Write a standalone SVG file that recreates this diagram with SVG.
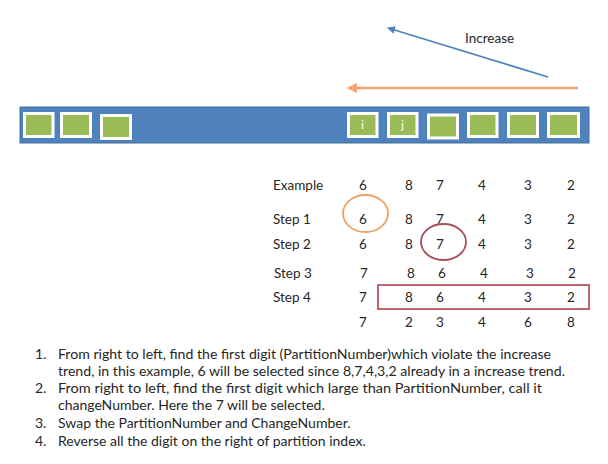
<svg xmlns="http://www.w3.org/2000/svg" width="608" height="464" viewBox="0 0 608 464">
<style>
text{font-family:Lato,"Liberation Sans",sans-serif;fill:#262626}
.t{font-size:13.5px}
.n{font-size:13.5px;text-anchor:middle}
.l{font-size:14px}
.sq{fill:#9BBB59;stroke:#FFFFFF;stroke-width:3}
.lab{fill:#FFFFFF;font-size:12px;text-anchor:middle}
</style>
<defs>
<marker id="ab" markerWidth="8" markerHeight="8" refX="7" refY="4" orient="auto" markerUnits="userSpaceOnUse"><path d="M0,0 L8,4 L0,8 z" fill="#4F81BD"/></marker>
<marker id="ao" markerWidth="10" markerHeight="10" refX="9" refY="5" orient="auto" markerUnits="userSpaceOnUse"><path d="M0,0 L10,5 L0,10 z" fill="#F2A46E"/></marker>
</defs>
<g id="connectors">
<line x1="548" y1="77" x2="388" y2="28" stroke="#4F81BD" stroke-width="1.8" marker-end="url(#ab)"/>
<line x1="578" y1="88" x2="348" y2="88" stroke="#F2A46E" stroke-width="2.5" marker-end="url(#ao)"/>
</g>
<text class="t" x="465" y="43">Increase</text>
<g id="bar">
<rect x="20" y="107" width="569" height="36" fill="#4F81BD" stroke="#41719C" stroke-width="1"/>
<rect class="sq" x="24.5" y="113.5" width="28.5" height="23"/>
<rect class="sq" x="61.5" y="113.5" width="29" height="23"/>
<rect class="sq" x="101.5" y="115.5" width="29" height="23"/>
<g id="node-i"><rect class="sq" x="348.5" y="113.5" width="28.5" height="23"/><text class="lab" x="362.5" y="129">i</text></g>
<g id="node-j"><rect class="sq" x="388.5" y="113.5" width="28.5" height="23"/><text class="lab" x="402.5" y="129">j</text></g>
<rect class="sq" x="428.5" y="115" width="29" height="23"/>
<rect class="sq" x="468.5" y="113.5" width="28.5" height="23"/>
<rect class="sq" x="508.5" y="113.5" width="29" height="23"/>
<rect class="sq" x="548.5" y="113.5" width="30" height="23"/>
</g>
<g id="table">
<text class="t" x="273" y="190">Example</text>
<text class="n" x="363" y="190">6</text><text class="n" x="409" y="190">8</text><text class="n" x="440" y="190">7</text><text class="n" x="482" y="190">4</text><text class="n" x="528" y="190">3</text><text class="n" x="571" y="190">2</text>
<text class="t" x="273" y="224">Step 1</text>
<text class="n" x="363" y="224">6</text><text class="n" x="409" y="224">8</text><text class="n" x="440" y="224">7</text><text class="n" x="482" y="224">4</text><text class="n" x="528" y="224">3</text><text class="n" x="571" y="224">2</text>
<text class="t" x="273" y="249">Step 2</text>
<text class="n" x="363" y="249">6</text><text class="n" x="409" y="249">8</text><text class="n" x="440" y="249">7</text><text class="n" x="482" y="249">4</text><text class="n" x="528" y="249">3</text><text class="n" x="571" y="249">2</text>
<text class="t" x="274" y="278">Step 3</text>
<text class="n" x="364" y="278">7</text><text class="n" x="411" y="278">8</text><text class="n" x="442" y="278">6</text><text class="n" x="484" y="278">4</text><text class="n" x="530" y="278">3</text><text class="n" x="572" y="278">2</text>
<text class="t" x="273" y="302">Step 4</text>
<text class="n" x="363" y="302">7</text><text class="n" x="409" y="302">8</text><text class="n" x="440" y="302">6</text><text class="n" x="482" y="302">4</text><text class="n" x="528" y="302">3</text><text class="n" x="571" y="302">2</text>
<text class="n" x="363" y="327">7</text><text class="n" x="409" y="327">2</text><text class="n" x="440" y="327">3</text><text class="n" x="482" y="327">4</text><text class="n" x="528" y="327">6</text><text class="n" x="571" y="327">8</text>
<ellipse cx="365.5" cy="213.5" rx="22.5" ry="18.5" fill="none" stroke="#F0A060" stroke-width="1.8"/>
<ellipse cx="443.5" cy="242" rx="22.5" ry="18" fill="none" stroke="#A8505C" stroke-width="1.8"/>
<rect x="378" y="285" width="211" height="24" fill="none" stroke="#B85560" stroke-width="1.8"/>
</g>
<g id="list">
<text class="l" x="35" y="359">1.</text><text class="l" x="58" y="359" textLength="493" lengthAdjust="spacingAndGlyphs">From right to left, find the first digit (PartitionNumber)which violate the increase</text>
<text class="l" x="58" y="376" textLength="507" lengthAdjust="spacingAndGlyphs">trend, in this example, 6 will be selected since 8,7,4,3,2 already in a increase trend.</text>
<text class="l" x="35" y="393">2.</text><text class="l" x="58" y="393" textLength="484" lengthAdjust="spacingAndGlyphs">From right to left, find the first digit which large than PartitionNumber, call it</text>
<text class="l" x="58" y="410">changeNumber. Here the 7 will be selected.</text>
<text class="l" x="35" y="428">3.</text><text class="l" x="58" y="428">Swap the PartitionNumber and ChangeNumber.</text>
<text class="l" x="35" y="446">4.</text><text class="l" x="58" y="446">Reverse all the digit on the right of partition index.</text>
</g>
</svg>
